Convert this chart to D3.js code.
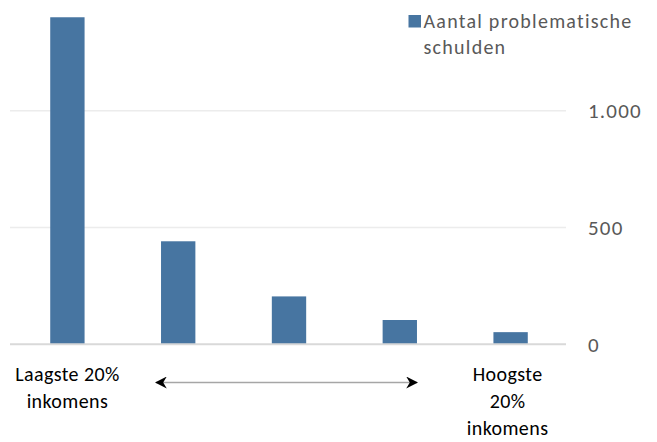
<!DOCTYPE html>
<html>
<head>
<meta charset="utf-8">
<script src="https://cdn.jsdelivr.net/npm/d3@7"></script>
<style>
  body { margin: 0; background: #fff; }
  svg text { font-family: Carlito, Lato, sans-serif; }
</style>
</head>
<body>
<div id="chart"></div>
<script>
// data
const groups = ["g1", "g2", "g3", "g4", "g5"];
const debts = [1400, 441, 205, 104, 52];
const yTicks = [0, 500, 1000];
const seriesName = ["Aantal problematische", "schulden"];
const leftLabel = ["Laagste 20%", "inkomens"];
const rightLabel = ["Hoogste", "20%", "inkomens"];

const width = 657, height = 442;
const barColor = "#4775a1";

const svg = d3.select("#chart")
  .append("svg")
  .attr("width", width)
  .attr("height", height);

// x: one band per income group
const x = d3.scaleBand()
  .domain(groups)
  .range([12, 566])
  .paddingInner(0.69)
  .paddingOuter(0.345);

// y: value axis on the right
const y = d3.scaleLinear()
  .domain([0, 1000])
  .range([344.3, 110.7]);

// gridlines
svg.append("g")
  .selectAll("line")
  .data(yTicks.filter(d => d > 0))
  .join("line")
  .attr("x1", 10)
  .attr("x2", 566)
  .attr("y1", d => y(d))
  .attr("y2", d => y(d))
  .attr("stroke", "#ececec")
  .attr("stroke-width", 1.5);

// bars
svg.append("g")
  .selectAll("rect")
  .data(debts)
  .join("rect")
  .attr("x", (d, i) => x(groups[i]))
  .attr("width", x.bandwidth())
  .attr("y", d => y(d))
  .attr("height", d => y(0) - y(d))
  .attr("fill", barColor);

// baseline
svg.append("line")
  .attr("x1", 10)
  .attr("x2", 566)
  .attr("y1", y(0))
  .attr("y2", y(0))
  .attr("stroke", "#d9d9d9")
  .attr("stroke-width", 2);

// right axis labels
const yAxis = d3.axisRight(y)
  .tickValues(yTicks)
  .tickSize(0)
  .tickPadding(0)
  .tickFormat(d => d3.format(",")(d).replace(/,/g, "."));

svg.append("g")
  .attr("transform", "translate(588,0)")
  .call(yAxis)
  .call(g => g.select(".domain").remove())
  .call(g => g.selectAll("text")
    .attr("fill", "#595959")
    .style("font-size", "21px")
    .style("letter-spacing", "1.2px")
    .style("font-family", "Carlito, Lato, sans-serif"));

// legend
const legend = svg.append("g");
legend.append("rect")
  .attr("x", 408.5)
  .attr("y", 15)
  .attr("width", 12.5)
  .attr("height", 12.5)
  .attr("fill", barColor);
legend.append("text")
  .attr("fill", "#595959")
  .style("font-size", "20px")
  .style("letter-spacing", "1.25px")
  .selectAll("tspan")
  .data(seriesName)
  .join("tspan")
  .attr("x", 423.5)
  .attr("y", (d, i) => 27.5 + i * 26.5)
  .text(d => d);

// category labels under the first and last bar
function label(lines, cx) {
  svg.append("text")
    .attr("text-anchor", "middle")
    .attr("fill", "#000")
    .style("font-size", "20px")
    .style("letter-spacing", "0.4px")
    .selectAll("tspan")
    .data(lines)
    .join("tspan")
    .attr("x", cx)
    .attr("y", (d, i) => 381 + i * 27)
    .text(d => d);
}
label(leftLabel, x(groups[0]) + x.bandwidth() / 2);
label(rightLabel, x(groups[4]) + x.bandwidth() / 2 - 3);

// double arrow between the labels
const defs = svg.append("defs");
defs.append("marker")
  .attr("id", "head")
  .attr("viewBox", "0 0 10 10")
  .attr("refX", 9)
  .attr("refY", 5)
  .attr("markerWidth", 12)
  .attr("markerHeight", 12)
  .attr("markerUnits", "userSpaceOnUse")
  .attr("orient", "auto-start-reverse")
  .append("path")
  .attr("d", "M0,0 L10,5 L0,10 L3,5 Z")
  .attr("fill", "#000");

svg.append("line")
  .attr("x1", 156)
  .attr("x2", 417)
  .attr("y1", 382.5)
  .attr("y2", 382.5)
  .attr("stroke", "#a6a6a6")
  .attr("stroke-width", 1.5)
  .attr("marker-start", "url(#head)")
  .attr("marker-end", "url(#head)");
</script>
</body>
</html>
